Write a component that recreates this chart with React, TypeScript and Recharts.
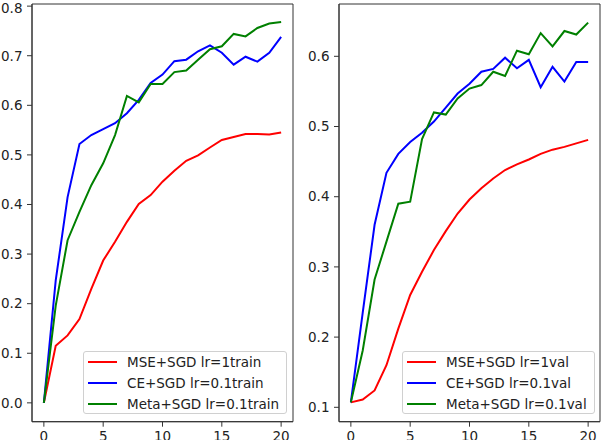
import { LineChart, Line, XAxis, YAxis, ReferenceArea } from "recharts";

const epochs = [0, 1, 2, 3, 4, 5, 6, 7, 8, 9, 10, 11, 12, 13, 14, 15, 16, 17, 18, 19, 20];

// left panel: train
const mseTrain = [0.0, 0.115, 0.136, 0.169, 0.23, 0.287, 0.325, 0.365, 0.401, 0.419, 0.446, 0.468, 0.488, 0.499, 0.515, 0.53, 0.536, 0.542, 0.542, 0.541, 0.545];
const ceTrain = [0.0, 0.247, 0.415, 0.522, 0.54, 0.552, 0.564, 0.584, 0.611, 0.645, 0.662, 0.689, 0.692, 0.709, 0.721, 0.706, 0.682, 0.698, 0.688, 0.706, 0.738];
const metaTrain = [0.0, 0.196, 0.328, 0.385, 0.439, 0.483, 0.54, 0.619, 0.606, 0.643, 0.643, 0.667, 0.67, 0.692, 0.713, 0.719, 0.744, 0.739, 0.756, 0.765, 0.768];

// right panel: val
const mseVal = [0.107, 0.111, 0.124, 0.16, 0.212, 0.26, 0.293, 0.324, 0.351, 0.376, 0.396, 0.412, 0.426, 0.438, 0.446, 0.453, 0.461, 0.467, 0.471, 0.476, 0.481];
const ceVal = [0.107, 0.235, 0.36, 0.434, 0.461, 0.478, 0.491, 0.507, 0.527, 0.547, 0.561, 0.578, 0.582, 0.598, 0.583, 0.595, 0.556, 0.585, 0.564, 0.592, 0.592];
const metaVal = [0.107, 0.181, 0.282, 0.336, 0.39, 0.393, 0.482, 0.52, 0.517, 0.54, 0.554, 0.559, 0.578, 0.572, 0.608, 0.603, 0.633, 0.614, 0.636, 0.631, 0.648];

const xTicks = [0, 5, 10, 15, 20];
const leftYTicks = [0.0, 0.1, 0.2, 0.3, 0.4, 0.5, 0.6, 0.7, 0.8];
const rightYTicks = [0.1, 0.2, 0.3, 0.4, 0.5, 0.6];

const trainLabels = ["MSE+SGD lr=1train", "CE+SGD lr=0.1train", "Meta+SGD lr=0.1train"];
const valLabels = ["MSE+SGD lr=1val", "CE+SGD lr=0.1val", "Meta+SGD lr=0.1val"];
const colors = ["#ff0000", "#0000ff", "#008000"];

const trainData = epochs.map((e, i) => ({ epoch: e, mse: mseTrain[i], ce: ceTrain[i], meta: metaTrain[i] }));
const valData = epochs.map((e, i) => ({ epoch: e, mse: mseVal[i], ce: ceVal[i], meta: metaVal[i] }));

const font = "'DejaVu Sans', sans-serif";
const tickStyle = { fontFamily: font, fontSize: 13.5, fill: "#222" };
const spine = "#333";

const Legend = ({ labels, left, top, width }: { labels: string[]; left: number; top: number; width: number }) => (
  <div
    style={{
      position: "absolute",
      left,
      top,
      width,
      height: 63,
      border: "1px solid #d0d0d0",
      borderRadius: 3,
      background: "rgba(255,255,255,0.8)",
      boxSizing: "border-box",
      fontFamily: font,
      fontSize: 13.5,
      color: "#222",
    }}
  >
    {labels.map((l, i) => (
      <div key={l} style={{ position: "absolute", left: 0, top: 10 + i * 21 - 9, height: 18, width: "100%" }}>
        <div style={{ position: "absolute", left: 4, top: 8, width: 29, height: 2, background: colors[i] }} />
        <div style={{ position: "absolute", left: 43, top: 0, lineHeight: "18px", whiteSpace: "nowrap" }}>{l}</div>
      </div>
    ))}
  </div>
);

const Panel = ({ data, domain, ticks, yWidth, width, rightMargin }: any) => (
  <LineChart width={width} height={440} data={data} margin={{ top: 4, right: rightMargin, left: 0, bottom: 0 }}>
    <XAxis
      dataKey="epoch"
      type="number"
      domain={[-1, 21]}
      ticks={xTicks}
      height={18.3}
      tickSize={5}
      tickMargin={4.5}
      tick={tickStyle}
      tickLine={{ stroke: spine }}
      axisLine={{ stroke: spine }}
      allowDataOverflow
    />
    <YAxis
      type="number"
      domain={domain}
      ticks={ticks}
      width={yWidth}
      tickSize={5}
      tickMargin={4.5}
      tick={tickStyle}
      tickFormatter={(v: number) => v.toFixed(1)}
      tickLine={{ stroke: spine }}
      axisLine={{ stroke: spine }}
      allowDataOverflow
    />
    <ReferenceArea x1={-1} x2={21} y1={domain[0]} y2={domain[1]} fill="none" stroke={spine} strokeWidth={1} ifOverflow="visible" />
    <Line type="linear" dataKey="mse" stroke={colors[0]} strokeWidth={2} dot={false} isAnimationActive={false} />
    <Line type="linear" dataKey="ce" stroke={colors[1]} strokeWidth={2} dot={false} isAnimationActive={false} />
    <Line type="linear" dataKey="meta" stroke={colors[2]} strokeWidth={2} dot={false} isAnimationActive={false} />
  </LineChart>
);

export default function App() {
  return (
    <div style={{ position: "absolute", left: 0, top: 0, width: 602, height: 440, background: "#fff", overflow: "hidden" }}>
      <div style={{ position: "absolute", left: 0, top: 0 }}>
        <Panel data={trainData} domain={[-0.038, 0.8043]} ticks={leftYTicks} yWidth={32} width={300} rightMargin={7} />
      </div>
      <div style={{ position: "absolute", left: 300, top: 0 }}>
        <Panel data={valData} domain={[0.0795, 0.6745]} ticks={rightYTicks} yWidth={39} width={302} rightMargin={2} />
      </div>
      <Legend labels={trainLabels} left={83} top={351} width={204} />
      <Legend labels={valLabels} left={402} top={351} width={193} />
    </div>
  );
}
